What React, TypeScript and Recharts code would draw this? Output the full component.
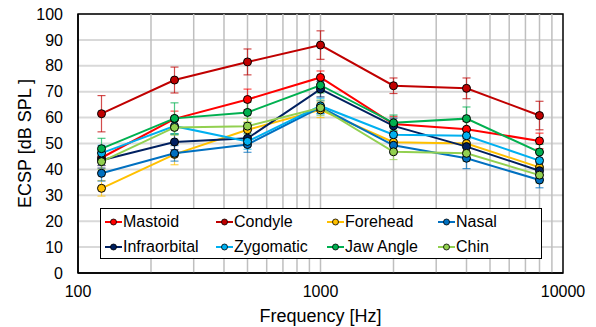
import React from "react";
import {
  LineChart,
  Line,
  XAxis,
  YAxis,
  CartesianGrid,
  ReferenceLine,
  ReferenceArea,
  ErrorBar,
  Legend,
  Label,
} from "recharts";

document.body.style.margin = "0";

const frequencies = [125, 250, 500, 1000, 2000, 4000, 8000];

const mastoid = [44.5, 59.5, 67, 75.5, 57.5, 55.5, 51];
const mastoidErr = [3, 3, 4, 2.5, 3, 3, 3];
const condyle = [61.5, 74.5, 81.5, 88, 72.3, 71.3, 60.8];
const condyleErr = [7, 5, 5, 5.5, 3, 4, 5.5];
const forehead = [32.7, 45.8, 55.3, 63, 50.5, 50, 40.8];
const foreheadErr = [3, 4, 3, 3, 3, 3, 3];
const nasal = [38.5, 46.2, 49.6, 64, 49.3, 44.3, 35.9];
const nasalErr = [3, 3, 3, 2.5, 3, 4, 3];
const infraorbital = [43.5, 50.6, 52, 71, 56.8, 48.8, 39.5];
const infraorbitalErr = [3, 3, 3, 3, 3, 3, 3];
const zygomatic = [46.3, 56.7, 50.8, 64.5, 53.4, 53, 43.4];
const zygomaticErr = [3, 3, 3, 3, 3, 3, 3];
const jawAngle = [48, 59.7, 62, 72.5, 58, 59.6, 46.7];
const jawAngleErr = [4, 6, 4, 3, 3, 4.5, 3];
const chin = [43, 56.2, 56.7, 63.8, 46.8, 46.2, 37.8];
const chinErr = [3, 3, 3, 3, 3, 3, 3];

const xTicks = [100, 1000, 10000];
const yTicks = [0, 10, 20, 30, 40, 50, 60, 70, 80, 90, 100];
const minorX = [200, 300, 400, 500, 600, 700, 800, 900, 1000, 2000, 3000, 4000, 5000, 6000, 7000, 8000, 9000];

const series = [
  { name: "Mastoid", color: "#FF0000", values: mastoid, errors: mastoidErr },
  { name: "Condyle", color: "#C00000", values: condyle, errors: condyleErr },
  { name: "Forehead", color: "#FFC000", values: forehead, errors: foreheadErr },
  { name: "Nasal", color: "#0070C0", values: nasal, errors: nasalErr },
  { name: "Infraorbital", color: "#002060", values: infraorbital, errors: infraorbitalErr },
  { name: "Zygomatic", color: "#00B0F0", values: zygomatic, errors: zygomaticErr },
  { name: "Jaw Angle", color: "#00B050", values: jawAngle, errors: jawAngleErr },
  { name: "Chin", color: "#92D050", values: chin, errors: chinErr },
];

const chartData = frequencies.map((f, i) => {
  const row: Record<string, number> = { freq: f };
  series.forEach((s) => {
    row[s.name] = s.values[i];
    row[s.name + "Err"] = s.errors[i];
  });
  return row;
});

const FONT = "'Liberation Sans', Arial, sans-serif";

function LegendBox() {
  return (
    <div
      style={{
        width: 442,
        height: 51,
        boxSizing: "border-box",
        border: "1.5px solid #000",
        background: "#fff",
        display: "grid",
        gridTemplateColumns: "111px 111px 111px 105px",
        gridTemplateRows: "26px 23px",
        paddingLeft: 4,
        fontFamily: FONT,
        fontSize: 16,
        color: "#000",
      }}
    >
      {series.map((s) => (
        <div key={s.name} style={{ display: "flex", alignItems: "center", whiteSpace: "nowrap" }}>
          <svg width={18} height={10} style={{ marginRight: 0 }}>
            <line x1={0} y1={5} x2={17} y2={5} stroke={s.color} strokeWidth={2} />
            <circle cx={8.5} cy={5} r={3} fill={s.color} stroke="#000" strokeWidth={0.8} />
          </svg>
          <span>{s.name}</span>
        </div>
      ))}
    </div>
  );
}

export default function App() {
  return (
    <div style={{ width: 596, height: 327, background: "#fff", fontFamily: FONT }}>
      <LineChart width={596} height={327} data={chartData} margin={{ top: 14, right: 33, left: 0, bottom: 0 }}>
        <CartesianGrid vertical={false} stroke="#D9D9D9" strokeWidth={2} />
        {minorX.map((v) => (
          <ReferenceLine key={v} x={v} stroke="#BFBFBF" strokeWidth={1.5} />
        ))}
        <XAxis
          dataKey="freq"
          type="number"
          scale="log"
          domain={[100, 10000]}
          ticks={xTicks}
          allowDataOverflow
          height={54}
          tickLine={false}
          tickSize={0}
          tickMargin={13}
          axisLine={{ stroke: "#000", strokeWidth: 1.5 }}
          tick={{ fill: "#000", fontSize: 16, fontFamily: FONT }}
        >
          <Label value="Frequency [Hz]" position="insideBottom" offset={5} style={{ fill: "#000", fontSize: 18, fontFamily: FONT }} />
        </XAxis>
        <YAxis
          type="number"
          domain={[0, 100]}
          ticks={yTicks}
          width={78}
          tickLine={false}
          tickSize={0}
          tickMargin={15}
          axisLine={{ stroke: "#000", strokeWidth: 1.5 }}
          tick={{ fill: "#000", fontSize: 16, fontFamily: FONT }}
        >
          <Label
            content={() => (
              <text
                x={25}
                y={143.5}
                transform="rotate(-90 25 143.5)"
                textAnchor="middle"
                dominantBaseline="central"
                style={{ fill: "#000", fontSize: 18, fontFamily: FONT }}
              >
                ECSP [dB SPL ]
              </text>
            )}
          />
        </YAxis>
        {series.map((s) => (
          <Line
            key={s.name}
            dataKey={s.name}
            name={s.name}
            stroke={s.color}
            strokeWidth={2}
            dot={{ r: 4, fill: s.color, stroke: "#000", strokeWidth: 1 }}
            activeDot={false}
            isAnimationActive={false}
          >
            <ErrorBar dataKey={s.name + "Err"} direction="y" width={4} stroke={s.color} strokeOpacity={0.7} strokeWidth={1.2} />
          </Line>
        ))}
        <ReferenceArea x1={100} x2={10000} y1={0} y2={100} fill="none" stroke="#000" strokeWidth={1.5} ifOverflow="visible" />
        <Legend
          layout="horizontal"
          verticalAlign="middle"
          align="center"
          content={() => <LegendBox />}
          wrapperStyle={{ position: "absolute", left: 100, top: 208, width: 442, height: 51 }}
        />
      </LineChart>
    </div>
  );
}
